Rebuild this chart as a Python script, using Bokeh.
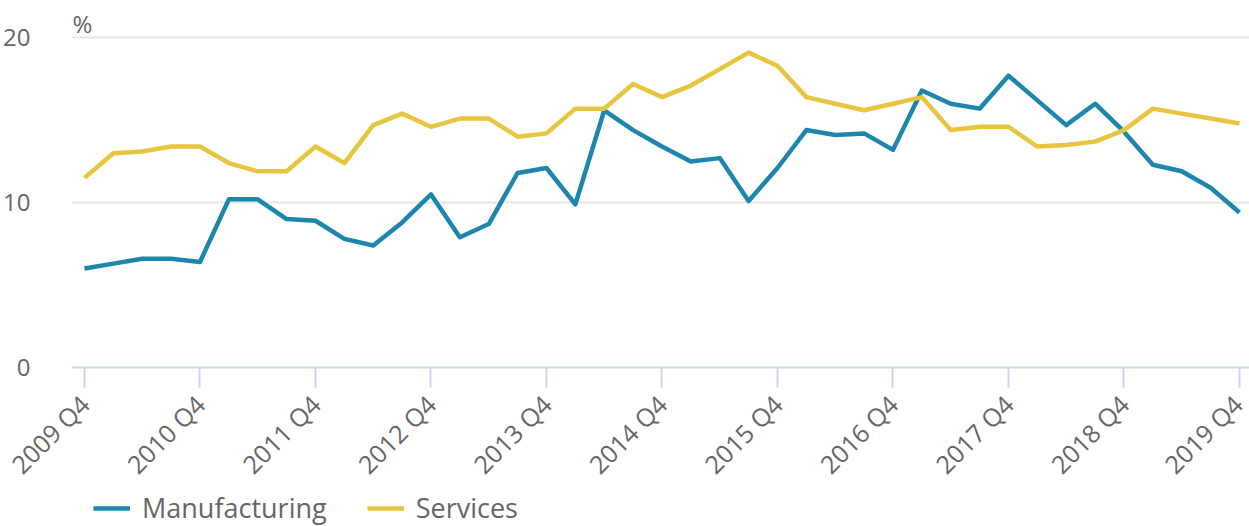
from bokeh.plotting import figure
from bokeh.layouts import column
from bokeh.models import (ColumnDataSource, FixedTicker, Legend, LegendItem,
                          Range1d, Label)
from bokeh.embed import file_html
from bokeh.resources import INLINE

quarters = [f"{y} Q{q}" for y, q in
            [(2009, 4)] + [(yy, qq) for yy in range(2010, 2020) for qq in (1, 2, 3, 4)]]
manufacturing = [6.0, 6.3, 6.6, 6.6, 6.4, 10.2, 10.2, 9.0, 8.9, 7.8, 7.4, 8.8, 10.5, 7.9,
                 8.7, 11.8, 12.1, 9.9, 15.6, 14.4, 13.4, 12.5, 12.7, 10.1, 12.1, 14.4, 14.1,
                 14.2, 13.2, 16.8, 16.0, 15.7, 17.7, 16.2, 14.7, 16.0, 14.3, 12.3, 11.9, 10.9, 9.4]
services = [11.5, 13.0, 13.1, 13.4, 13.4, 12.4, 11.9, 11.9, 13.4, 12.4, 14.7, 15.4, 14.6, 15.1,
            15.1, 14.0, 14.2, 15.7, 15.7, 17.2, 16.4, 17.1, 18.1, 19.1, 18.3, 16.4, 16.0,
            15.6, 16.0, 16.4, 14.4, 14.6, 14.6, 13.4, 13.5, 13.7, 14.4, 15.7, 15.4, 15.1, 14.8]
series_names = ["Manufacturing", "Services"]
tick_idx = list(range(0, 41, 4))
y_ticks = [0, 10, 20]

idx = list(range(len(quarters)))
src = ColumnDataSource(dict(x=idx, m=manufacturing, s=services, q=quarters))

FONT = "Open Sans"
GREY = "#666666"
BLUE = "#1c86ad"
YELLOW = "#e8c53e"

H1 = 496
p = figure(width=1249, height=H1, output_backend="svg", toolbar_location=None,
           x_range=Range1d(-0.45, 40.347), y_range=Range1d(0, 22.26),
           min_border_left=71, min_border_right=0, min_border_top=0,
           min_border_bottom=H1 - 367)
p.outline_line_color = None
p.background_fill_color = "white"
p.border_fill_color = "white"

r_m = p.line("x", "m", source=src, line_color=BLUE, line_width=4.5, line_join="round")
r_s = p.line("x", "s", source=src, line_color=YELLOW, line_width=4.5, line_join="round")

# x axis
xa = p.xaxis[0]
xa.ticker = FixedTicker(ticks=tick_idx)
xa.major_label_overrides = {i: quarters[i] for i in tick_idx}
xa.major_label_orientation = 0.785398
xa.axis_line_color = "#ccd6eb"
xa.axis_line_width = 2
xa.major_tick_line_color = "#ccd6eb"
xa.major_tick_line_width = 2
xa.major_tick_out = 20
xa.major_tick_in = 0
xa.minor_tick_line_color = None
xa.major_label_text_font = FONT
xa.major_label_text_font_size = "25px"
xa.major_label_text_color = GREY
xa.major_label_standoff = 12

# y axis
ya = p.yaxis[0]
ya.ticker = FixedTicker(ticks=y_ticks)
ya.axis_line_color = None
ya.major_tick_line_color = None
ya.minor_tick_line_color = None
ya.major_label_text_font = FONT
ya.major_label_text_font_size = "24px"
ya.major_label_text_color = GREY
ya.major_label_standoff = 35

p.xgrid.grid_line_color = None
p.ygrid.ticker = FixedTicker(ticks=[10, 20])
p.ygrid.grid_line_color = "#e6e6e6"
p.ygrid.grid_line_width = 2

p.add_layout(Label(x=-0.415, y=20.87, text="%", text_font=FONT, text_font_size="24px",
                   text_color=GREY, text_baseline="middle", text_align="left"))

# legend strip (lines share the data but lie outside this strip's view)
H2 = 526 - H1
lg = figure(width=1249, height=H2, output_backend="svg", toolbar_location=None,
            x_range=Range1d(-0.45, 40.347), y_range=Range1d(100, 101),
            min_border=0, min_border_left=71, x_axis_type=None, y_axis_type=None)
lg.outline_line_color = None
lg.xgrid.visible = False
lg.ygrid.visible = False
lr_m = lg.line("x", "m", source=src, line_color=BLUE, line_width=4.5)
lr_s = lg.line("x", "s", source=src, line_color=YELLOW, line_width=4.5)
legend = Legend(items=[LegendItem(label=series_names[0], renderers=[lr_m]),
                       LegendItem(label=series_names[1], renderers=[lr_s])],
                orientation="horizontal", location=(22, 0),
                label_text_font=FONT, label_text_font_size="27px", label_text_color=GREY,
                glyph_width=37, glyph_height=30, label_height=30, label_standoff=12,
                spacing=40, padding=0, margin=0, border_line_color=None,
                background_fill_alpha=0)
lg.add_layout(legend, "center")

layout = column(p, lg, spacing=0)
open("out.html", "w").write(file_html(layout, INLINE))
